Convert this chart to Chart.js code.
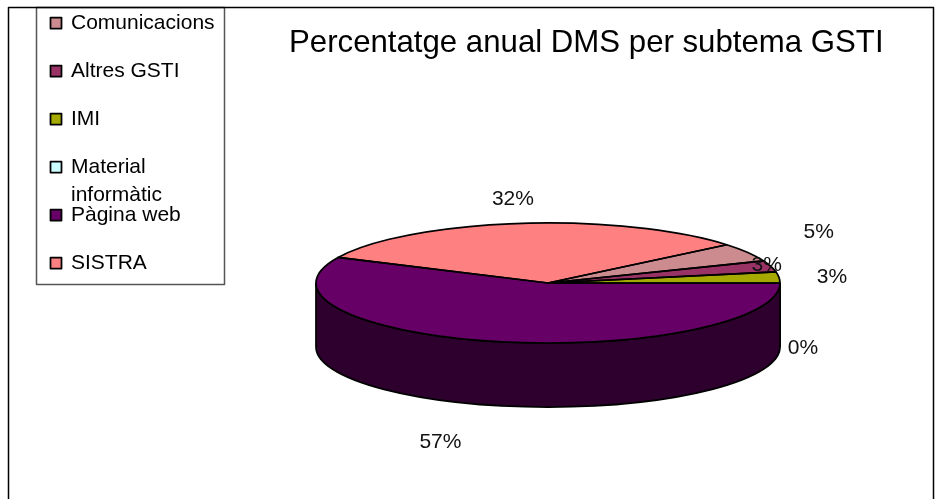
<!DOCTYPE html>
<html>
<head>
<meta charset="utf-8">
<style>
  html, body { margin: 0; padding: 0; background: #fff; }
  canvas { display: block; }
</style>
<script src="https://cdn.jsdelivr.net/npm/chart.js@4"></script>
</head>
<body>
<canvas id="pie" width="936" height="499"></canvas>
<script>
const chartTitle = 'Percentatge anual DMS per subtema GSTI';
const categories = ['Comunicacions', 'Altres GSTI', 'IMI', 'Material informàtic', 'Pàgina web', 'SISTRA'];
const percentages = [5, 3, 3, 0, 57, 32];
const sliceColors = ['#CC8B8F', '#993366', '#A6AA00', '#CCFFFF', '#660066', '#FF8080'];
const wallColors = ['#66464A', '#4D1A33', '#535500', '#668080', '#2E002E', '#804040'];

const squash = 60 / 232;
const depth = 64;
const outline = 1.75;
const font = (size) => size + 'px "Liberation Sans", Arial, sans-serif';

// etiquetes: desplacament des de la vora de cada porcio
const labelNudge = [[71, -20], [-4, -1], [53, 0], [23, 65], [-57, 101], [-6, -24]];

// angle dins de (-PI, PI]
function wrapAngle(a) {
  const t = Math.PI * 2;
  const n = ((a % t) + t) % t;
  return n > Math.PI ? n - t : n;
}

const pie3d = {
  id: 'pie3d',
  beforeDatasetsDraw(chart) {
    const ctx = chart.ctx;
    const arcs = chart.getDatasetMeta(0).data;
    const { x: cx, y: cy } = arcs[0];
    const r = arcs[0].outerRadius;

    // paret lateral, nomes la meitat de davant
    arcs.forEach((arc, i) => {
      const start = wrapAngle(arc.startAngle);
      const from = Math.max(start, 0);
      const to = Math.min(start + (arc.endAngle - arc.startAngle), Math.PI);
      if (to <= from) return;
      ctx.save();
      ctx.beginPath();
      ctx.ellipse(cx, cy, r, r * squash, 0, from, to);
      ctx.ellipse(cx, cy + depth, r, r * squash, 0, to, from, true);
      ctx.closePath();
      ctx.fillStyle = wallColors[i];
      ctx.fill();
      ctx.strokeStyle = '#000';
      ctx.lineWidth = outline;
      ctx.stroke();
      ctx.restore();
    });

    // la tapa la dibuixa Chart.js aixafada
    ctx.save();
    ctx.translate(0, cy);
    ctx.scale(1, squash);
    ctx.translate(0, -cy);
  },
  afterDatasetsDraw(chart) {
    const ctx = chart.ctx;
    ctx.restore();
    const arcs = chart.getDatasetMeta(0).data;

    // contorn a part perque el gruix no quedi aixafat
    arcs.forEach((arc) => {
      if (arc.endAngle - arc.startAngle <= 0) return;
      ctx.save();
      ctx.translate(0, arc.y);
      ctx.scale(1, squash);
      ctx.translate(0, -arc.y);
      ctx.beginPath();
      ctx.moveTo(arc.x, arc.y);
      ctx.arc(arc.x, arc.y, arc.outerRadius, arc.startAngle, arc.endAngle);
      ctx.closePath();
      ctx.restore();
      ctx.strokeStyle = '#000';
      ctx.lineWidth = outline;
      ctx.lineJoin = 'round';
      ctx.stroke();
    });

    // percentatges
    ctx.font = font(21);
    ctx.fillStyle = '#111';
    ctx.textAlign = 'center';
    ctx.textBaseline = 'middle';
    arcs.forEach((arc, i) => {
      const mid = (arc.startAngle + arc.endAngle) / 2;
      const x = arc.x + Math.cos(mid) * arc.outerRadius + labelNudge[i][0];
      const y = arc.y + Math.sin(mid) * arc.outerRadius * squash + labelNudge[i][1];
      ctx.fillText(percentages[i] + '%', x, y);
    });
  },
  afterDraw(chart) {
    const ctx = chart.ctx;
    ctx.save();

    ctx.fillStyle = '#000';
    ctx.textAlign = 'left';
    ctx.textBaseline = 'alphabetic';
    ctx.font = font(31.2);
    ctx.fillText(chartTitle, 289, 52);

    // llegenda
    ctx.fillStyle = '#fff';
    ctx.fillRect(36, 7, 188, 277);
    ctx.strokeStyle = '#555';
    ctx.lineWidth = 1.5;
    ctx.strokeRect(36.5, 7.5, 188, 277);

    // marc exterior: el de baix queda fora de la imatge
    ctx.strokeStyle = '#000';
    ctx.lineWidth = 1.5;
    ctx.beginPath();
    ctx.moveTo(8.5, 499);
    ctx.lineTo(8.5, 7.5);
    ctx.lineTo(933.5, 7.5);
    ctx.lineTo(933.5, 499);
    ctx.stroke();

    ctx.font = font(21);
    categories.forEach((name, i) => {
      const y = 29 + i * 48;
      ctx.fillStyle = sliceColors[i];
      ctx.fillRect(50.5, y - 11.5, 11, 11);
      ctx.strokeStyle = '#000';
      ctx.lineWidth = outline;
      ctx.strokeRect(50.5, y - 11.5, 11, 11);
      ctx.fillStyle = '#000';
      if (name === 'Material informàtic') {
        ctx.fillText('Material', 71, y);
        ctx.fillText('informàtic', 71, y + 28);
      } else {
        ctx.fillText(name, 71, y);
      }
    });
    ctx.restore();
  }
};

new Chart(document.getElementById('pie'), {
  type: 'pie',
  data: {
    labels: categories,
    datasets: [{
      data: percentages,
      backgroundColor: sliceColors,
      borderWidth: 0,
      radius: 232,
      clip: false
    }]
  },
  options: {
    responsive: false,
    animation: false,
    rotation: 50.4,
    layout: { padding: { left: 160, top: 67 } },
    plugins: {
      legend: { display: false },
      title: { display: false },
      tooltip: { enabled: false }
    }
  },
  plugins: [pie3d]
});
</script>
</body>
</html>
